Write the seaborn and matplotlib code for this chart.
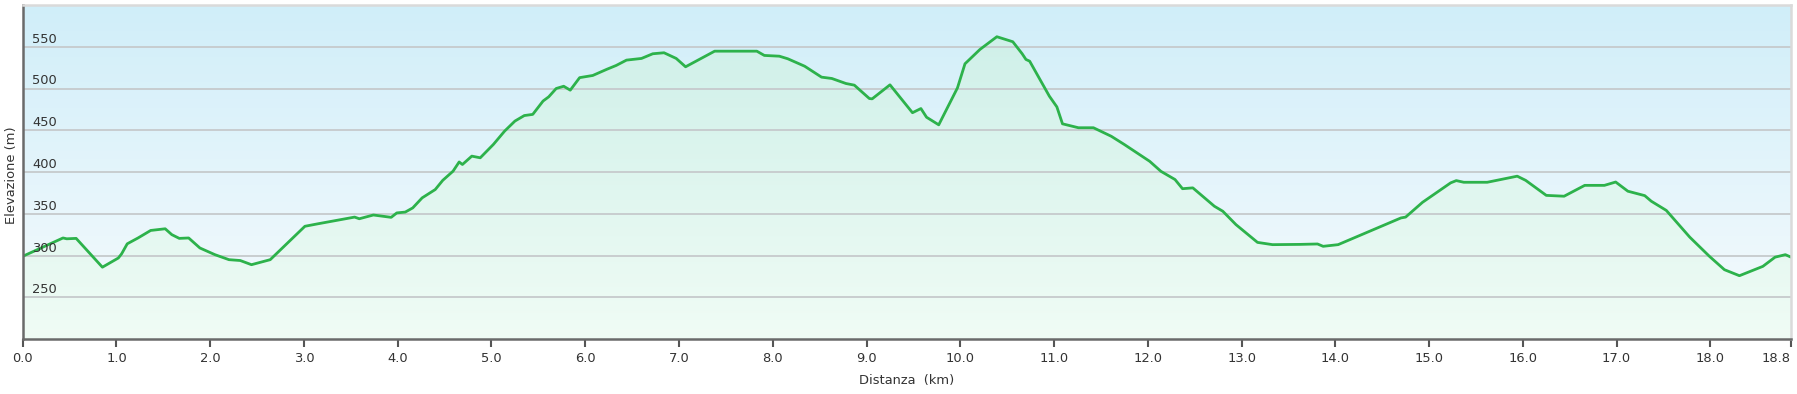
import numpy as np
import pandas as pd
import matplotlib
matplotlib.use("Agg")
import matplotlib.pyplot as plt
import matplotlib.transforms as mtransforms
import seaborn as sns

# ---- data ----
distance_km = [0.00, 0.43, 0.47, 0.57, 0.85, 1.02, 1.055, 1.115, 1.23, 1.365, 1.52, 1.59, 1.67, 1.77,
               1.89, 2.05, 2.20, 2.32, 2.44, 2.64, 3.01, 3.15, 3.54, 3.59, 3.74, 3.93, 3.99, 4.08,
               4.16, 4.26, 4.40, 4.48, 4.59, 4.655, 4.69, 4.79, 4.88, 5.02, 5.14, 5.25, 5.35, 5.44,
               5.55, 5.61, 5.69, 5.77, 5.84, 5.94, 6.08, 6.23, 6.33, 6.44, 6.60, 6.72, 6.84, 6.97,
               7.07, 7.38, 7.83, 7.91, 8.07, 8.16, 8.34, 8.52, 8.63, 8.78, 8.87, 9.03, 9.06, 9.25,
               9.49, 9.58, 9.64, 9.77, 9.97, 10.05, 10.21, 10.39, 10.56, 10.66, 10.70, 10.74, 10.95,
               11.03, 11.09, 11.26, 11.42, 11.61, 11.75, 12.02, 12.14, 12.29, 12.37, 12.48, 12.71,
               12.80, 12.94, 13.17, 13.33, 13.62, 13.81, 13.87, 14.03, 14.70, 14.75, 14.93, 15.23,
               15.29, 15.37, 15.62, 15.94, 16.03, 16.25, 16.44, 16.66, 16.87, 16.99, 17.12, 17.30,
               17.37, 17.53, 17.78, 17.99, 18.15, 18.31, 18.56, 18.69, 18.80, 18.86]
elevation_m = [299, 321, 320, 320.5, 286, 297, 302, 314, 321, 330, 332, 325, 320.5, 321,
               309, 301, 295, 294, 289, 295, 335, 338, 346, 344, 348.5, 345.7, 351, 352,
               357, 369, 379, 390, 401, 412, 409, 419, 417, 433, 449, 461, 467.6, 469,
               485, 490, 500, 502.7, 498, 513, 515.6, 523, 527.6, 534, 536, 541.6, 542.8, 536,
               526, 544.7, 544.7, 539.6, 538.7, 535.6, 526.7, 513.6, 512, 506, 504, 488, 487.6, 504.4,
               471, 476, 465.6, 456.5, 500.8, 529.6, 546.8, 562, 556, 541.6, 534.8, 532.7, 490.8,
               478, 457.7, 453, 453, 442.8, 432.9, 412.8, 400.8, 391, 380, 381, 359,
               353, 337, 315.7, 313, 313.3, 313.8, 311, 313, 345, 346, 363.7, 387,
               389.7, 387.7, 387.7, 395, 390, 372, 371, 384, 384, 388, 377, 371.7,
               365, 354, 322, 299, 283, 275.8, 287, 298, 301, 298]

x_ticks = [0, 1, 2, 3, 4, 5, 6, 7, 8, 9, 10, 11, 12, 13, 14, 15, 16, 17, 18, 18.86]
x_tick_labels = ["0.0", "1.0", "2.0", "3.0", "4.0", "5.0", "6.0", "7.0", "8.0", "9.0", "10.0",
                 "11.0", "12.0", "13.0", "14.0", "15.0", "16.0", "17.0", "18.0", "18.8"]
y_ticks = [250, 300, 350, 400, 450, 500, 550]
y_tick_labels = ["250", "300", "350", "400", "450", "500", "550"]

x_label = "Distanza  (km)"
y_label = "Elevazione (m)"

df = pd.DataFrame({"dist": distance_km, "elev": elevation_m})

# ---- style ----
sns.set_theme(style="white")
plt.rcParams["font.family"] = ["DejaVu Sans"]

W, H = 1797, 394
fig = plt.figure(figsize=(W / 100, H / 100), dpi=100)
left_px, right_px, top_px, bottom_px = 22.7, 1791, 5, 339
ax = fig.add_axes([left_px / W, (H - bottom_px) / H, (right_px - left_px) / W, (bottom_px - top_px) / H])

xmin, xmax = 0, distance_km[-1]
ymin, ymax = 200, 600

# background gradient (light blue top -> almost white bottom)
n = 256
t = np.linspace(0, 1, n)[:, None]  # 0 bottom, 1 top
bg_bottom = np.array([247, 251, 253]) / 255
bg_top = np.array([208, 238, 249]) / 255
bg = (bg_bottom + (bg_top - bg_bottom) * t)[:, None, :]
ax.imshow(bg, extent=[xmin, xmax, ymin, ymax], origin="lower", aspect="auto",
          interpolation="bilinear", zorder=0)

# area fill with mint gradient clipped to the profile
poly = ax.fill_between(df["dist"], df["elev"], ymin, color="none", lw=0, zorder=1)
fl_bottom = np.array([240, 252, 245]) / 255
fl_top = np.array([204, 239, 232]) / 255
fl = (fl_bottom + (fl_top - fl_bottom) * t)[:, None, :]
im = ax.imshow(fl, extent=[xmin, xmax, ymin, ymax], origin="lower", aspect="auto",
               interpolation="bilinear", zorder=1)
im.set_clip_path(poly.get_paths()[0], transform=ax.transData)

# grid lines
for yv in y_ticks:
    ax.axhline(yv, color="#c6cacc", lw=1.3, zorder=2)

# profile line
sns.lineplot(data=df, x="dist", y="elev", ax=ax, color="#2db24b", lw=2.0,
             estimator=None, sort=False, legend=False, zorder=3)

ax.set_xlim(xmin, xmax)
ax.set_ylim(ymin, ymax)

# x axis ticks
ax.set_xticks(x_ticks)
ax.set_xticklabels(x_tick_labels, fontsize=9.4, color="#333333")
ax.tick_params(axis="x", bottom=True, direction="out", length=6, width=1.5,
               color="#555555", pad=3.5)
last = ax.get_xticklabels()[-1]
last.set_ha("right")

# y labels inside the plot, above grid lines
ax.set_yticks([])
tr = mtransforms.offset_copy(ax.get_yaxis_transform(), fig=fig, x=9.5, y=4, units="dots")
for yv, lab in zip(y_ticks, y_tick_labels):
    ax.text(0, yv, lab, transform=tr, ha="left", va="baseline", fontsize=9.4,
            color="#333333", zorder=4)

ax.set_xlabel(x_label, fontsize=9.4, color="#333333")
ax.xaxis.set_label_coords(0.5, -0.104)
ax.set_ylabel(y_label, fontsize=9.4, color="#333333")
ax.yaxis.set_label_coords(-0.0025, 0.49)

for side in ["left", "bottom"]:
    ax.spines[side].set_color("#6a6a6a")
    ax.spines[side].set_linewidth(1.8)
for side in ["top", "right"]:
    ax.spines[side].set_color("#dadada")
    ax.spines[side].set_linewidth(1.8)
for sp in ax.spines.values():
    sp.set_zorder(5)

fig.savefig("out.png", dpi=100)
